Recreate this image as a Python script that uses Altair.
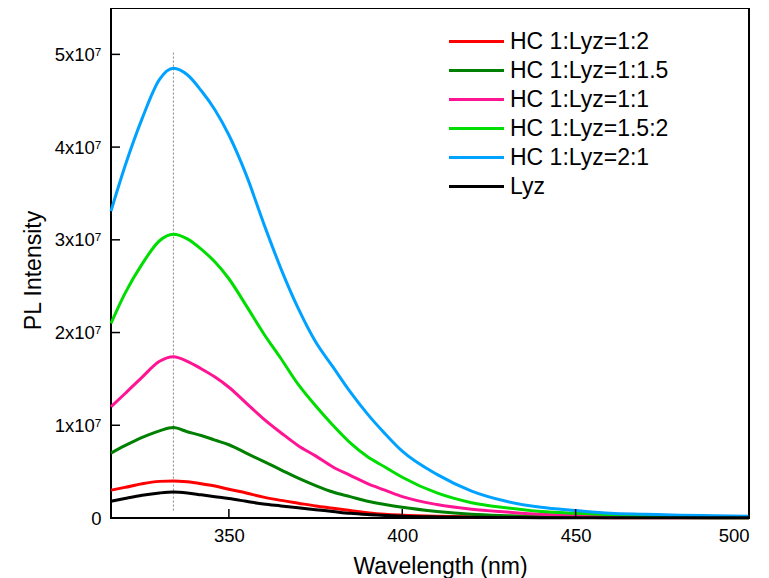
import altair as alt
import pandas as pd

# Wavelength grid (nm)
wavelength = [316, 320, 325, 330, 334, 338, 342, 346, 350, 355, 360, 365, 370, 375,
              380, 385, 390, 395, 400, 410, 420, 430, 440, 450, 460, 470, 480, 490, 500]

# PL intensity in units of 1e7
hc_1_2 = [0.30, 0.33, 0.37, 0.395, 0.40, 0.39, 0.37, 0.345, 0.31, 0.27, 0.225, 0.19, 0.16, 0.13,
          0.105, 0.08, 0.057, 0.04, 0.03, 0.018, 0.012, 0.008, 0.006, 0.005, 0.004, 0.003, 0.003, 0.002, 0.002]
hc_1_15 = [0.70, 0.78, 0.87, 0.94, 0.975, 0.93, 0.89, 0.84, 0.79, 0.70, 0.61, 0.52, 0.43, 0.35,
           0.28, 0.23, 0.18, 0.145, 0.115, 0.07, 0.04, 0.025, 0.015, 0.01, 0.008, 0.006, 0.005, 0.004, 0.003]
hc_1_1 = [1.20, 1.34, 1.52, 1.69, 1.74, 1.69, 1.61, 1.52, 1.41, 1.24, 1.07, 0.92, 0.78, 0.67,
          0.55, 0.46, 0.37, 0.30, 0.23, 0.145, 0.095, 0.065, 0.04, 0.03, 0.02, 0.015, 0.01, 0.008, 0.006]
hc_15_2 = [2.10, 2.42, 2.74, 2.99, 3.06, 3.01, 2.90, 2.76, 2.58, 2.29, 1.99, 1.72, 1.44, 1.21,
           1.00, 0.81, 0.66, 0.55, 0.44, 0.27, 0.165, 0.11, 0.07, 0.05, 0.035, 0.025, 0.02, 0.015, 0.012]
hc_2_1 = [3.31, 3.79, 4.31, 4.73, 4.85, 4.78, 4.61, 4.40, 4.13, 3.70, 3.18, 2.69, 2.26, 1.90,
          1.63, 1.36, 1.12, 0.91, 0.72, 0.47, 0.29, 0.18, 0.115, 0.08, 0.05, 0.04, 0.03, 0.025, 0.02]
lyz = [0.18, 0.21, 0.245, 0.27, 0.28, 0.27, 0.25, 0.23, 0.21, 0.18, 0.15, 0.13, 0.11, 0.09,
       0.07, 0.05, 0.037, 0.028, 0.02, 0.012, 0.008, 0.006, 0.004, 0.003, 0.003, 0.002, 0.002, 0.002, 0.002]

series_names = ["HC 1:Lyz=1:2", "HC 1:Lyz=1:1.5", "HC 1:Lyz=1:1", "HC 1:Lyz=1.5:2", "HC 1:Lyz=2:1", "Lyz"]
series_values = [hc_1_2, hc_1_15, hc_1_1, hc_15_2, hc_2_1, lyz]
series_colors = ["#FF0000", "#008000", "#FF1493", "#00DD00", "#00A2FF", "#000000"]

x_ticks = [350, 400, 450, 500]
y_ticks = [0, 1, 2, 3, 4, 5]

peak_wavelength = [334]
peak_line_low = [0.08]
peak_line_high = [5.03]

FONT = "Liberation Sans"

rows = []
for name, vals in zip(series_names, series_values):
    for w, v in zip(wavelength, vals):
        rows.append({"wavelength": w, "intensity": v, "series": name})
df = pd.DataFrame(rows)

xscale = alt.Scale(domain=[316, 500], nice=False, zero=False)
yscale = alt.Scale(domain=[0, 5.5], nice=False)

lines = alt.Chart(df).mark_line(strokeWidth=3, interpolate="monotone").encode(
    x=alt.X("wavelength:Q", scale=xscale,
            axis=alt.Axis(values=x_ticks, title="Wavelength (nm)", ticks=False, tickSize=0,
                          domain=False, grid=False, labelFont=FONT, labelFontSize=18.5,
                          labelColor="black", labelPadding=8, titleFont=FONT,
                          titleFontSize=23, titleFontWeight="normal", titleColor="black",
                          titleX=329, titleY=48, titleBaseline="middle", titleAlign="center")),
    y=alt.Y("intensity:Q", scale=yscale,
            axis=alt.Axis(values=y_ticks, title="PL Intensity", ticks=False, tickSize=0,
                          domain=False, grid=False, labelFont=FONT, labelFontSize=18.5,
                          labelColor="black", labelPadding=10,
                          labelExpr="datum.value == 0 ? '0' : datum.value + 'x10\u2077'",
                          titleFont=FONT, titleFontSize=23, titleFontWeight="normal",
                          titleColor="black", titleX=-78, titleY=262, titleAngle=270,
                          titleBaseline="middle", titleAlign="center")),
    color=alt.Color("series:N",
                    scale=alt.Scale(domain=series_names, range=series_colors),
                    sort=series_names,
                    legend=alt.Legend(orient="none", legendX=353, legendY=21, title=None,
                                      symbolType="M-2.5,0H2.5", symbolSize=484,
                                      symbolStrokeWidth=3, labelFont=FONT, labelFontSize=23,
                                      labelColor="black", labelOffset=21, rowPadding=4,
                                      padding=0)),
    order=alt.Order("wavelength:Q"),
)

peak_df = pd.DataFrame({"wavelength": peak_wavelength, "intensity": peak_line_low,
                        "intensity2": peak_line_high})
peak = alt.Chart(peak_df).mark_rule(color="#555555", strokeWidth=0.7, strokeDash=[2, 2]).encode(
    x=alt.X("wavelength:Q"),
    y=alt.Y("intensity:Q"),
    y2="intensity2:Q",
)

xt = alt.Chart(pd.DataFrame({"wavelength": x_ticks})).mark_rule(color="black", strokeWidth=1.5).encode(
    x=alt.X("wavelength:Q"),
    y=alt.value(510),
    y2=alt.value(501),
)
yt = alt.Chart(pd.DataFrame({"intensity": y_ticks})).mark_rule(color="black", strokeWidth=1.5).encode(
    y=alt.Y("intensity:Q"),
    x=alt.value(0),
    x2=alt.value(9),
)

chart = alt.layer(peak, lines, xt, yt).properties(
    width=638, height=510,
    autosize=alt.AutoSizeParams(type="none"),
    padding={"left": 103, "top": 0, "right": 12, "bottom": 60},
).configure(background="white").configure_view(stroke="black", strokeWidth=2)

chart.save("out.html", embed_options={"renderer": "svg", "actions": False})
